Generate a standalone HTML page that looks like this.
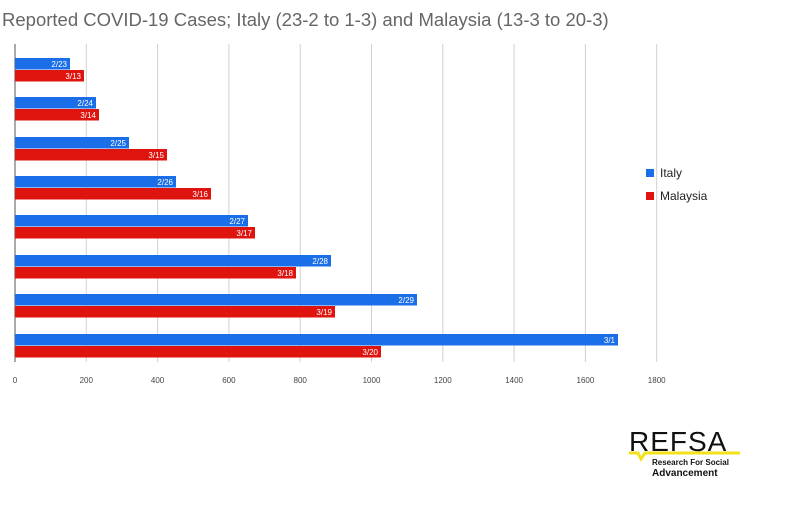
<!DOCTYPE html><html><head><style>
body{margin:0;width:800px;height:500px;background:#fff;font-family:"Liberation Sans",sans-serif;overflow:hidden}
</style></head><body>
<svg width="800" height="500" xmlns="http://www.w3.org/2000/svg" font-family="Liberation Sans, sans-serif">
<text x="2" y="26" font-size="18.5" fill="#666">Reported COVID-19 Cases; Italy (23-2 to 1-3) and Malaysia (13-3 to 20-3)</text>
<g stroke="#d0d0d0" stroke-width="1">
<line x1="86.3" y1="44" x2="86.3" y2="362"/><line x1="157.6" y1="44" x2="157.6" y2="362"/><line x1="228.9" y1="44" x2="228.9" y2="362"/><line x1="300.2" y1="44" x2="300.2" y2="362"/><line x1="371.5" y1="44" x2="371.5" y2="362"/><line x1="442.8" y1="44" x2="442.8" y2="362"/><line x1="514.1" y1="44" x2="514.1" y2="362"/><line x1="585.4" y1="44" x2="585.4" y2="362"/><line x1="656.7" y1="44" x2="656.7" y2="362"/>
</g>
<line x1="15" y1="44" x2="15" y2="362" stroke="#555" stroke-width="1"/>
<g font-size="8" fill="#fff" text-anchor="end">
<rect x="15" y="58" width="55" height="11.5" fill="#1a6ee8"/><text x="67" y="67">2/23</text>
<rect x="15" y="70" width="69" height="11.5" fill="#e0140e"/><text x="81" y="79">3/13</text>
<rect x="15" y="97" width="81" height="11.5" fill="#1a6ee8"/><text x="93" y="106">2/24</text>
<rect x="15" y="109" width="84" height="11.5" fill="#e0140e"/><text x="96" y="118">3/14</text>
<rect x="15" y="137" width="114" height="11.5" fill="#1a6ee8"/><text x="126" y="146">2/25</text>
<rect x="15" y="149" width="152" height="11.5" fill="#e0140e"/><text x="164" y="158">3/15</text>
<rect x="15" y="176" width="161" height="11.5" fill="#1a6ee8"/><text x="173" y="185">2/26</text>
<rect x="15" y="188" width="196" height="11.5" fill="#e0140e"/><text x="208" y="197">3/16</text>
<rect x="15" y="215" width="233" height="11.5" fill="#1a6ee8"/><text x="245" y="224">2/27</text>
<rect x="15" y="227" width="240" height="11.5" fill="#e0140e"/><text x="252" y="236">3/17</text>
<rect x="15" y="255" width="316" height="11.5" fill="#1a6ee8"/><text x="328" y="264">2/28</text>
<rect x="15" y="267" width="281" height="11.5" fill="#e0140e"/><text x="293" y="276">3/18</text>
<rect x="15" y="294" width="402" height="11.5" fill="#1a6ee8"/><text x="414" y="303">2/29</text>
<rect x="15" y="306" width="320" height="11.5" fill="#e0140e"/><text x="332" y="315">3/19</text>
<rect x="15" y="334" width="603" height="11.5" fill="#1a6ee8"/><text x="615" y="343">3/1</text>
<rect x="15" y="346" width="366" height="11.5" fill="#e0140e"/><text x="378" y="355">3/20</text>
</g>
<g font-size="8" fill="#444" text-anchor="middle">
<text x="15" y="383">0</text><text x="86.3" y="383">200</text><text x="157.6" y="383">400</text><text x="228.9" y="383">600</text><text x="300.2" y="383">800</text><text x="371.5" y="383">1000</text><text x="442.8" y="383">1200</text><text x="514.1" y="383">1400</text><text x="585.4" y="383">1600</text><text x="656.7" y="383">1800</text>
</g>
<rect x="646" y="169" width="8" height="8" fill="#1a6ee8"/><text x="660" y="177" font-size="12" fill="#222">Italy</text>
<rect x="646" y="192" width="8" height="8" fill="#e0140e"/><text x="660" y="200" font-size="12" fill="#222">Malaysia</text>
<text x="629" y="451" font-size="28" fill="#111" letter-spacing="1">REFSA</text>
<polyline points="629,453 638,453 641,459 645,453 740,453" fill="none" stroke="#f2e21a" stroke-width="3"/>
<text x="652" y="465" font-size="8" font-weight="bold" fill="#111">Research For Social</text>
<text x="652" y="476" font-size="10" font-weight="bold" fill="#111">Advancement</text>
</svg>
</body></html>
